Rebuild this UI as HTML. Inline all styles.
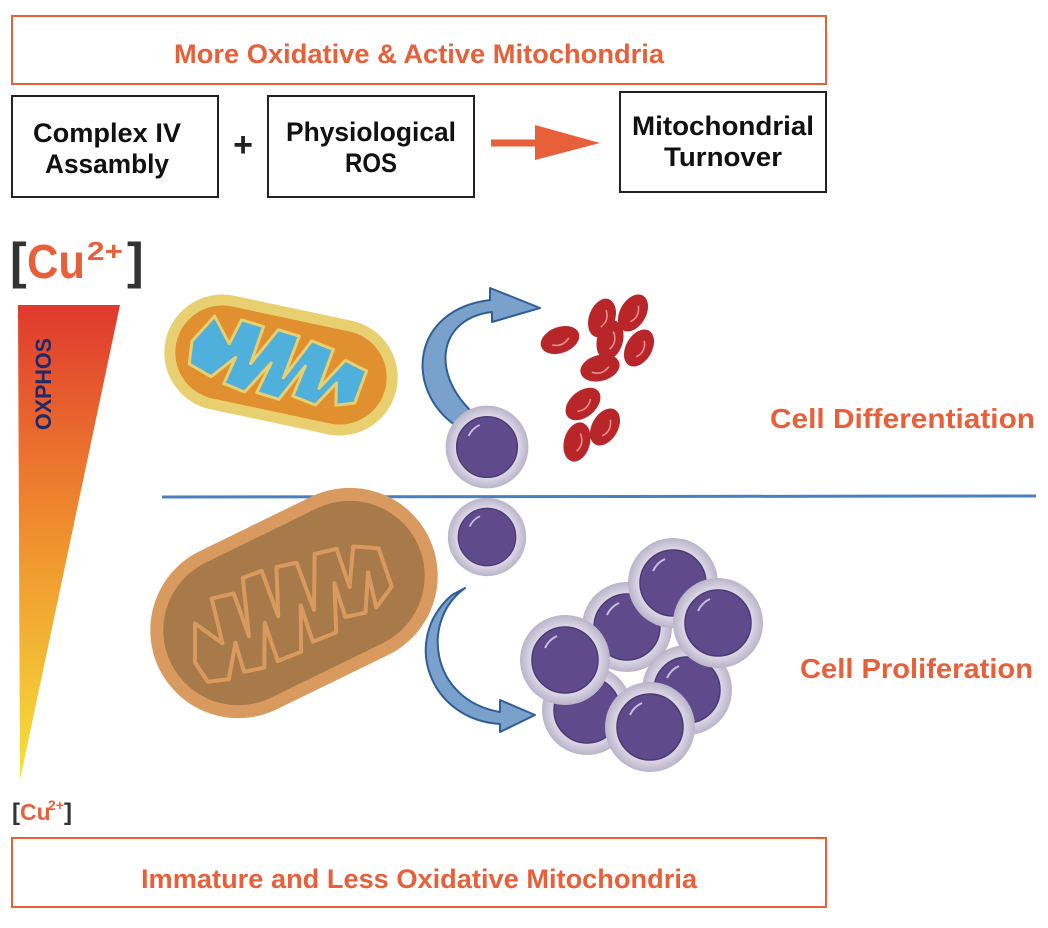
<!DOCTYPE html>
<html><head><meta charset="utf-8"><style>
html,body{margin:0;padding:0;background:#fff;}
svg{display:block;}
text{font-family:"Liberation Sans Narrow","Liberation Sans",sans-serif;font-weight:bold;}
</style></head><body>
<svg width="1048" height="928" viewBox="0 0 1048 928" xmlns="http://www.w3.org/2000/svg">
<defs>
<linearGradient id="tri" x1="0" y1="0" x2="0" y2="1">
<stop offset="0" stop-color="#e0392e"/>
<stop offset="0.45" stop-color="#ef8a2e"/>
<stop offset="1" stop-color="#f6e23a"/>
</linearGradient>
<radialGradient id="ring" cx="0.5" cy="0.5" r="0.5">
<stop offset="0.7" stop-color="#e2dfec"/>
<stop offset="1" stop-color="#b9b4c9"/>
</radialGradient>
<g id="cell">
<circle r="45" fill="url(#ring)"/>
<circle r="33" fill="#5f4a8b" stroke="#4b3a72" stroke-width="1.5"/>
<path d="M-20,-12 A24,24 0 0 1 -8,-24" stroke="#c9bfe0" stroke-width="2" fill="none"/>
</g>
<g id="rbc">
<ellipse rx="20" ry="13" fill="#b8262a"/>
<path d="M-9,2 Q0,8 9,1" stroke="#f08c8c" stroke-width="1.6" fill="none"/>
</g>
</defs>

<rect x="12" y="16" width="814" height="68" fill="#fff" stroke="#e8603a" stroke-width="2"/>
<text x="419" y="63" font-size="27" fill="#e8603a" text-anchor="middle" textLength="490" lengthAdjust="spacingAndGlyphs">More Oxidative &amp; Active Mitochondria</text>

<rect x="12" y="96" width="206" height="101" fill="#fff" stroke="#222" stroke-width="2"/>
<text x="107" y="142" font-size="27" fill="#111" text-anchor="middle" textLength="148" lengthAdjust="spacingAndGlyphs">Complex IV</text>
<text x="107" y="173" font-size="27" fill="#111" text-anchor="middle" textLength="124" lengthAdjust="spacingAndGlyphs">Assambly</text>
<text x="243" y="156" font-size="34" fill="#222" text-anchor="middle" font-weight="normal">+</text>
<rect x="268" y="96" width="206" height="101" fill="#fff" stroke="#222" stroke-width="2"/>
<text x="371" y="141" font-size="27" fill="#111" text-anchor="middle" textLength="170" lengthAdjust="spacingAndGlyphs">Physiological</text>
<text x="371" y="172" font-size="27" fill="#111" text-anchor="middle" textLength="52" lengthAdjust="spacingAndGlyphs">ROS</text>
<line x1="491" y1="143" x2="540" y2="143" stroke="#e8603a" stroke-width="7"/>
<polygon points="535,125 600,143 535,160" fill="#e8603a"/>
<rect x="620" y="92" width="206" height="100" fill="#fff" stroke="#222" stroke-width="2"/>
<text x="723" y="135" font-size="27" fill="#111" text-anchor="middle" textLength="182" lengthAdjust="spacingAndGlyphs">Mitochondrial</text>
<text x="723" y="166" font-size="27" fill="#111" text-anchor="middle" textLength="118" lengthAdjust="spacingAndGlyphs">Turnover</text>

<text x="10" y="278" font-size="50" fill="#333" font-weight="normal">[</text>
<text x="27" y="278" font-size="48" fill="#e8603a" textLength="58" lengthAdjust="spacingAndGlyphs">Cu</text>
<text x="87" y="260" font-size="26" fill="#e8603a" textLength="36" lengthAdjust="spacingAndGlyphs">2+</text>
<text x="127" y="278" font-size="50" fill="#333" font-weight="normal">]</text>

<polygon points="18,305 120,305 20,780" fill="url(#tri)"/>
<text transform="translate(51,430) rotate(-90)" font-size="22" fill="#1f2a6b" textLength="92" lengthAdjust="spacingAndGlyphs">OXPHOS</text>

<text x="12" y="820" font-size="24" fill="#333" font-weight="normal">[</text>
<text x="20" y="820" font-size="23" fill="#e8603a" font-weight="normal">Cu</text>
<text x="48" y="810" font-size="14" fill="#e8603a" font-weight="normal">2+</text>
<text x="64" y="820" font-size="24" fill="#333" font-weight="normal">]</text>

<rect x="12" y="838" width="814" height="69" fill="#fff" stroke="#e8603a" stroke-width="2"/>
<text x="419" y="888" font-size="27" fill="#e8603a" text-anchor="middle" textLength="556" lengthAdjust="spacingAndGlyphs">Immature and Less Oxidative Mitochondria</text>

<line x1="162" y1="497" x2="1036" y2="496" stroke="#4a7fc0" stroke-width="3"/>

<text x="770" y="428" font-size="28" fill="#e8603a" textLength="265" lengthAdjust="spacingAndGlyphs">Cell Differentiation</text>
<text x="800" y="678" font-size="28" fill="#e8603a" textLength="233" lengthAdjust="spacingAndGlyphs">Cell Proliferation</text>

<g transform="translate(281,365) rotate(12)">
<rect x="-118" y="-58" width="236" height="116" rx="58" fill="#e8cf6f"/>
<rect x="-107" y="-47" width="214" height="94" rx="47" fill="#e0902f"/>
<path d="M-92,-5 L-75,-34 L-55,-10 L-48,-36 L-25,-34 L-30,5 L-10,-34 L12,-32 L5,12 L25,-30 L48,-26 L42,15 L62,-18 L85,-12 L80,22 L62,28 L58,6 L42,32 L18,28 L24,-4 L5,34 L-18,32 L-10,0 L-30,34 L-52,30 L-46,2 L-66,26 L-90,18 Z" fill="#4fb0dc" stroke="#e8cf6f" stroke-width="3" stroke-linejoin="round"/>
</g>

<g transform="translate(294,603) rotate(-26)">
<rect x="-150" y="-88" width="300" height="176" rx="88" fill="#d99a5f"/>
<rect x="-137" y="-75" width="274" height="150" rx="75" fill="#a87a4a"/>
<path d="M-115,10 L-98,-25 L-82,5 L-72,-40 L-50,-35 L-55,10 L-35,-45 L-15,-43 L-20,5 L0,-40 L20,-35 L15,15 L40,-35 L62,-30 L57,10 L78,-25 L100,-12 L95,28 L72,40 L80,5 L60,40 L40,35 L45,0 L25,45 L0,43 L5,5 L-15,47 L-40,45 L-35,5 L-55,45 L-75,40 L-70,10 L-92,40 L-112,33 Z" fill="none" stroke="#d99a5f" stroke-width="4" stroke-linejoin="round"/>
</g>

<path d="M455,425 C405,390 410,310 490,300 L490,288 L540,308 L492,322 L492,312 C440,318 430,370 470,410 Z" fill="#7aa1cc" stroke="#2f5d95" stroke-width="2" stroke-linejoin="round"/>
<path d="M465,588 C420,620 430,700 500,712 L500,700 L535,715 L500,732 L500,724 C430,720 400,640 452,595 Z" fill="#7aa1cc" stroke="#2f5d95" stroke-width="2" stroke-linejoin="round"/>

<g transform="translate(560,340) rotate(-20)"><use href="#rbc"/></g>
<g transform="translate(602,318) rotate(-70)"><use href="#rbc"/></g>
<g transform="translate(633,313) rotate(-60)"><use href="#rbc"/></g>
<g transform="translate(610,340) rotate(-75)"><use href="#rbc"/></g>
<g transform="translate(639,348) rotate(-60)"><use href="#rbc"/></g>
<g transform="translate(600,368) rotate(-15)"><use href="#rbc"/></g>
<g transform="translate(583,404) rotate(-40)"><use href="#rbc"/></g>
<g transform="translate(605,427) rotate(-60)"><use href="#rbc"/></g>
<g transform="translate(577,442) rotate(-75)"><use href="#rbc"/></g>

<g transform="translate(487,447) scale(0.92)"><use href="#cell"/></g>
<g transform="translate(487,537) scale(0.87)"><use href="#cell"/></g>

<g transform="translate(587,710)"><use href="#cell"/></g>
<g transform="translate(627,627)"><use href="#cell"/></g>
<g transform="translate(687,690)"><use href="#cell"/></g>
<g transform="translate(673,583)"><use href="#cell"/></g>
<g transform="translate(718,623)"><use href="#cell"/></g>
<g transform="translate(565,660)"><use href="#cell"/></g>
<g transform="translate(650,727)"><use href="#cell"/></g>
</svg>
</body></html>
